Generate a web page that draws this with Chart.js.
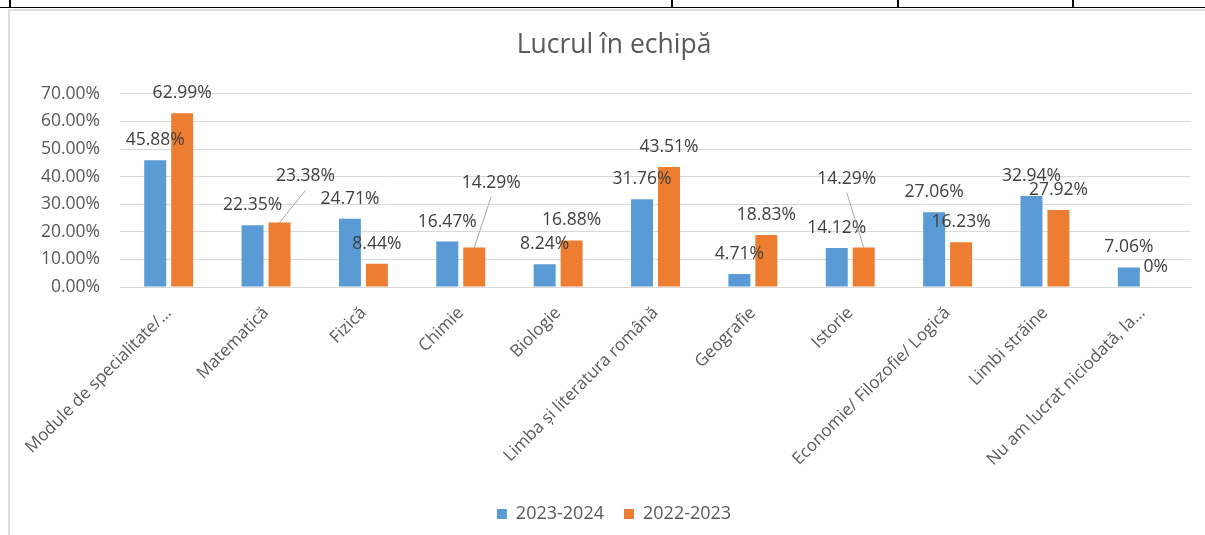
<!DOCTYPE html>
<html>
<head>
<meta charset="utf-8">
<script src="https://cdn.jsdelivr.net/npm/chart.js@4"></script>
<style>
  body { margin: 0; background: #fff; width: 1205px; height: 535px; overflow: hidden; position: relative; }
  .rule { position: absolute; background: #000; }
  #frame { position: absolute; left: 8px; top: 9px; right: 0; bottom: 0; border-top: 2px solid #dedede; border-left: 2px solid #dedede; }
  #wrap { position: absolute; left: 10px; top: 0; width: 1195px; height: 535px; }
</style>
</head>
<body>
<div class="rule" style="left:0;top:7px;width:1205px;height:1px"></div>
<div class="rule" style="left:9px;top:0;width:2px;height:8px"></div>
<div class="rule" style="left:671px;top:0;width:2px;height:8px"></div>
<div class="rule" style="left:897px;top:0;width:2px;height:8px"></div>
<div class="rule" style="left:1072px;top:0;width:2px;height:8px"></div>
<div id="frame"></div>
<div id="wrap"><canvas id="chart" width="1195" height="535"></canvas></div>

<script>
// ===== DATA =====
const categories = [
  "Module de specialitate/…",
  "Matematică",
  "Fizică",
  "Chimie",
  "Biologie",
  "Limba și literatura română",
  "Geografie",
  "Istorie",
  "Economie/ Filozofie/ Logică",
  "Limbi străine",
  "Nu am lucrat niciodată, la…"
];
const seriesNames = ["2023-2024", "2022-2023"];
const values2324 = [45.88, 22.35, 24.71, 16.47, 8.24, 31.76, 4.71, 14.12, 27.06, 32.94, 7.06];
const values2223 = [62.99, 23.38, 8.44, 14.29, 16.88, 43.51, 18.83, 14.29, 16.23, 27.92, 0];
const yTickValues = [0, 10, 20, 30, 40, 50, 60, 70];

const FONT = "'Open Sans'";

// labels that Excel pushed away from their bar (dataset:index -> dx, dy)
const labelNudges = { "1:1": [26, -26], "1:3": [17, -45], "1:7": [-17, -49] };

const barLabels = {
  id: "barLabels",
  afterDatasetsDraw(chart) {
    const ctx = chart.ctx;
    ctx.save();
    ctx.font = "17.5px " + FONT;
    ctx.textAlign = "center";
    ctx.textBaseline = "middle";
    chart.data.datasets.forEach((ds, di) => {
      chart.getDatasetMeta(di).data.forEach((bar, i) => {
        const v = ds.data[i];
        const txt = v === 0 ? "0%" : v.toFixed(2) + "%";
        let x = bar.x, y = bar.y - 20;
        const nudge = labelNudges[di + ":" + i];
        if (nudge) {
          x += nudge[0];
          y += nudge[1];
          ctx.strokeStyle = "#a6a6a6";
          ctx.lineWidth = 1;
          ctx.beginPath();
          ctx.moveTo(x, y + 14);
          ctx.lineTo(bar.x, bar.y);
          ctx.stroke();
        }
        ctx.fillStyle = "#404040";
        ctx.fillText(txt, x, y);
      });
    });
    ctx.restore();
  }
};

new Chart(document.getElementById("chart"), {
  type: "bar",
  data: {
    labels: categories,
    datasets: [
      { label: seriesNames[0], data: values2324, backgroundColor: "#5b9bd5" },
      { label: seriesNames[1], data: values2223, backgroundColor: "#ed7d31" }
    ]
  },
  options: {
    responsive: false,
    animation: false,
    datasets: { bar: { categoryPercentage: 0.554, barPercentage: 0.815 } },
    layout: { padding: { left: 27, right: 14, top: 0, bottom: 2 } },
    plugins: {
      title: {
        display: true,
        text: "Lucrul în echipă",
        color: "#595959",
        font: { family: FONT, size: 26.5, weight: "normal" },
        padding: { top: 30, bottom: 32 }
      },
      legend: {
        position: "bottom",
        labels: {
          color: "#595959",
          font: { family: FONT, size: 18 },
          boxWidth: 10,
          boxHeight: 10,
          padding: 20
        }
      },
      tooltip: { enabled: false }
    },
    scales: {
      x: {
        grid: { display: false },
        border: { color: "#d9d9d9" },
        ticks: {
          color: "#595959",
          font: { family: FONT, size: 17 },
          minRotation: 45,
          maxRotation: 45,
          autoSkip: false,
          padding: 8
        },
        afterFit: s => { s.height = 198; }
      },
      y: {
        min: 0,
        max: 70,
        grid: { color: "#d9d9d9", drawTicks: false },
        border: { display: false },
        ticks: {
          color: "#595959",
          font: { family: FONT, size: 17.5 },
          padding: 20,
          callback: v => v.toFixed(2) + "%"
        },
        afterBuildTicks: s => { s.ticks = yTickValues.map(v => ({ value: v })); },
        afterFit: s => { s.width = 83; }
      }
    }
  },
  plugins: [barLabels]
});
</script>
</body>
</html>
